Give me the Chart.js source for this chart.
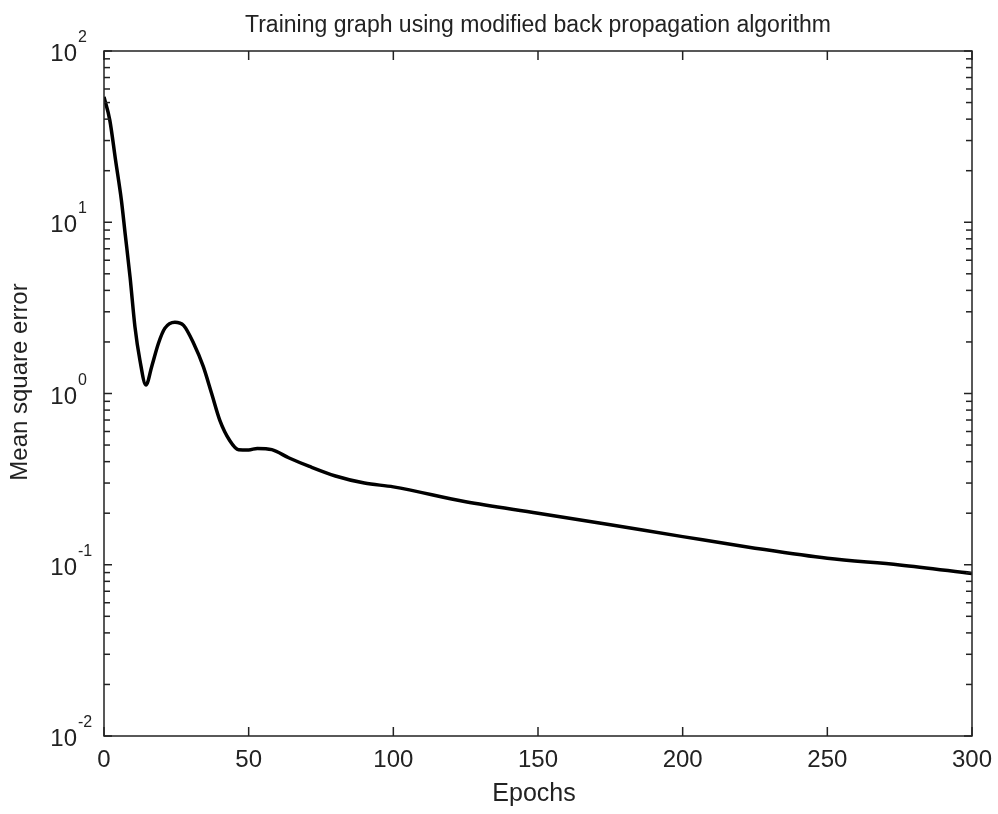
<!DOCTYPE html>
<html>
<head>
<meta charset="utf-8">
<title>Training graph</title>
<script src="https://cdn.jsdelivr.net/npm/chart.js@4.4.1/dist/chart.umd.min.js"></script>
<style>
  body { margin: 0; background: #fff; }
  #wrap { width: 998px; height: 814px; position: relative; }
</style>
</head>
<body>
<div id="wrap"><canvas id="mseChart"></canvas></div>
<script>
// values
const epochs = [0, 2, 4, 6, 7.3, 9, 10.7, 12.4, 14.5, 16.5, 18.8, 21, 24.5, 27.5, 31, 34.3, 37.2, 40, 43.5, 46.5,
  50, 53, 58, 64, 71, 80, 90, 100, 125, 150, 175, 200, 225, 250, 275, 300];
const mse = [54, 39.5, 23, 13.5, 8.6, 4.8, 2.45, 1.57, 1.12, 1.44, 1.96, 2.4, 2.61, 2.5, 1.96, 1.44, 1.0, 0.7, 0.53, 0.47,
  0.468, 0.478, 0.47, 0.42, 0.375, 0.33, 0.30, 0.285, 0.233, 0.20, 0.171, 0.146, 0.125, 0.109, 0.0998, 0.089];

const xTicks = [0, 50, 100, 150, 200, 250, 300];
const yExponents = [2, 1, 0, -1, -2];

const titleText = 'Training graph using modified back propagation algorithm';
const xLabel = 'Epochs';
const yLabel = 'Mean square error';

const FONT = '"Liberation Sans", Arial, sans-serif';

// matlab-ish box axes with inward ticks, drawn on top of the chart
const matlabAxes = {
  id: 'matlabAxes',
  afterDraw(chart) {
    const { ctx, chartArea: a, scales } = chart;
    const x = scales.x, y = scales.y;
    const seg = (x1, y1, x2, y2) => { ctx.beginPath(); ctx.moveTo(x1, y1); ctx.lineTo(x2, y2); ctx.stroke(); };

    ctx.save();
    ctx.strokeStyle = '#222';
    ctx.fillStyle = '#222';
    ctx.lineWidth = 1.5;
    ctx.strokeRect(a.left, a.top, a.right - a.left, a.bottom - a.top);

    // x ticks + labels
    ctx.font = '24px ' + FONT;
    ctx.textAlign = 'center';
    ctx.textBaseline = 'alphabetic';
    xTicks.forEach(t => {
      const px = x.getPixelForValue(t);
      seg(px, a.bottom, px, a.bottom - 9);
      seg(px, a.top, px, a.top + 9);
      ctx.fillText(String(t), px, a.bottom + 31);
    });

    // y decades + minor ticks
    yExponents.forEach(e => {
      const py = y.getPixelForValue(Math.pow(10, e));
      seg(a.left, py, a.left + 8, py);
      seg(a.right, py, a.right - 8, py);
      ctx.font = '24px ' + FONT;
      ctx.textAlign = 'right';
      ctx.fillText('10', a.left - 27, py + 10);
      ctx.font = '16px ' + FONT;
      ctx.textAlign = 'left';
      ctx.fillText(String(e), a.left - 26, py - 9);
      if (e > yExponents[yExponents.length - 1]) {
        for (let m = 2; m <= 9; m++) {
          const pm = y.getPixelForValue(m * Math.pow(10, e - 1));
          seg(a.left, pm, a.left + 6, pm);
          seg(a.right, pm, a.right - 6, pm);
        }
      }
    });

    // title and axis labels
    ctx.font = '23px ' + FONT;
    ctx.textAlign = 'center';
    ctx.fillText(titleText, (a.left + a.right) / 2, 32);
    ctx.font = '25px ' + FONT;
    ctx.fillText(xLabel, (a.left + a.right) / 2 - 4, 801);
    ctx.save();
    ctx.translate(27, 382);
    ctx.rotate(-Math.PI / 2);
    ctx.font = '24px ' + FONT;
    ctx.fillText(yLabel, 0, 0);
    ctx.restore();

    ctx.restore();
  }
};

const ctx = document.getElementById('mseChart').getContext('2d');
new Chart(ctx, {
  type: 'line',
  data: {
    datasets: [{
      label: 'MSE',
      data: epochs.map((e, i) => ({ x: e, y: mse[i] })),
      borderColor: '#000',
      borderWidth: 3.5,
      pointRadius: 0,
      fill: false,
      cubicInterpolationMode: 'monotone'
    }]
  },
  options: {
    responsive: true,
    maintainAspectRatio: false,
    animation: false,
    layout: { padding: { left: 104, right: 26, top: 51, bottom: 78 } },
    plugins: {
      legend: { display: false },
      tooltip: { enabled: false }
    },
    scales: {
      x: { type: 'linear', min: 0, max: 300, display: false },
      y: { type: 'logarithmic', min: 0.01, max: 100, display: false }
    }
  },
  plugins: [matlabAxes]
});
</script>
</body>
</html>
